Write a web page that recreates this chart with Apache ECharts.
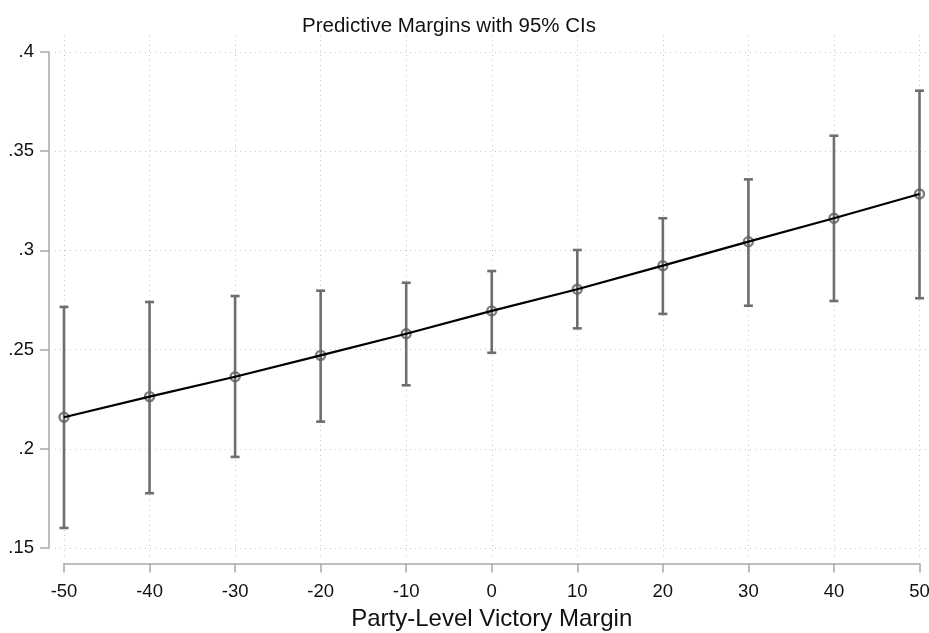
<!DOCTYPE html>
<html>
<head>
<meta charset="utf-8">
<script src="https://cdn.jsdelivr.net/npm/echarts@6/dist/echarts.min.js"></script>
<style>html,body{margin:0;padding:0;background:#fff}#c{width:929px;height:633px}</style>
</head>
<body>
<div id="c"></div>
<script>
const xValues = [-50, -40, -30, -20, -10, 0, 10, 20, 30, 40, 50];
const margins = [0.2159, 0.2263, 0.2363, 0.2471, 0.2580, 0.2695, 0.2804, 0.2923, 0.3044, 0.3162, 0.3284];
const lowerCI = [0.1601, 0.1776, 0.1959, 0.2137, 0.2320, 0.2484, 0.2607, 0.2680, 0.2721, 0.2745, 0.2759];
const upperCI = [0.2715, 0.2740, 0.2770, 0.2797, 0.2837, 0.2896, 0.3002, 0.3162, 0.3358, 0.3578, 0.3805];
const titleText = 'Predictive Margins with 95% CIs';
const xTitle = 'Party-Level Victory Margin';

const FONT = '"Liberation Sans", Arial, sans-serif';
const AXIS_COLOR = '#a8a8a8';
const GRID_COLOR = '#c4c4c4';
const BAR_COLOR = '#6e6e6e';

const chart = echarts.init(document.getElementById('c'), null, {renderer: 'canvas'});

const fmtY = v => String(+(+v).toFixed(2)).replace(/^0\./, '.');

const lineData = xValues.map((x, i) => [x, margins[i]]);
const barData = xValues.map((x, i) => [x, lowerCI[i], upperCI[i]]);

const dotted = {show: true, lineStyle: {color: GRID_COLOR, type: [1, 4], width: 1}};
const noAxis = {axisLine: {show: false}, axisTick: {show: false}, axisLabel: {show: false}};
const gridBase = {containLabel: false, outerBoundsMode: 'none'};

chart.setOption({
  animation: false,
  backgroundColor: '#ffffff',
  title: {
    text: titleText,
    left: 444, top: 11, textAlign: 'center',
    textStyle: {fontFamily: FONT, fontSize: 20.5, fontWeight: 'normal', color: '#111'}
  },
  grid: [
    Object.assign({left: 64, right: 9.5, top: 52, bottom: 85}, gridBase),      // main
    Object.assign({left: 64, right: 9.5, top: 35, bottom: 75}, gridBase),      // vertical dotted lines
    Object.assign({left: 55, right: 0, top: 52, bottom: 85}, gridBase)         // horizontal dotted lines
  ],
  xAxis: [
    {
      gridIndex: 0, type: 'value', min: -50, max: 50, interval: 10,
      offset: 15.5,
      axisLine: {show: true, onZero: false, lineStyle: {color: AXIS_COLOR, width: 1.5}},
      axisTick: {show: true, length: 9, lineStyle: {color: AXIS_COLOR, width: 1.5}},
      axisLabel: {margin: 19, fontFamily: FONT, fontSize: 18.5, color: '#111'},
      splitLine: {show: false},
      name: xTitle, nameLocation: 'middle', nameGap: 44,
      nameTextStyle: {fontFamily: FONT, fontSize: 24, color: '#111'}
    },
    Object.assign({gridIndex: 1, type: 'value', min: -50, max: 50, interval: 10, splitLine: dotted}, noAxis),
    Object.assign({gridIndex: 2, type: 'value', min: 0, max: 1, splitLine: {show: false}}, noAxis)
  ],
  yAxis: [
    {
      gridIndex: 0, type: 'value', min: 0.15, max: 0.4, interval: 0.05,
      offset: 15,
      axisLine: {show: true, onZero: false, lineStyle: {color: AXIS_COLOR, width: 1.5}},
      axisTick: {show: true, length: 9, lineStyle: {color: AXIS_COLOR, width: 1.5}},
      axisLabel: {margin: 15, fontFamily: FONT, fontSize: 18.5, color: '#111', formatter: fmtY},
      splitLine: {show: false}
    },
    Object.assign({gridIndex: 1, type: 'value', min: 0, max: 1, splitLine: {show: false}}, noAxis),
    Object.assign({gridIndex: 2, type: 'value', min: 0.15, max: 0.4, interval: 0.05, splitLine: dotted}, noAxis)
  ],
  series: [
    {
      type: 'custom',
      xAxisIndex: 0, yAxisIndex: 0,
      data: barData,
      z: 2,
      renderItem: function (params, api) {
        const x = api.value(0);
        const lo = api.coord([x, api.value(1)]);
        const hi = api.coord([x, api.value(2)]);
        const hw = 4.5;
        const style = {stroke: BAR_COLOR, lineWidth: 2.6, fill: null};
        return {
          type: 'group',
          children: [
            {type: 'line', shape: {x1: lo[0], y1: lo[1], x2: hi[0], y2: hi[1]}, style: style},
            {type: 'line', shape: {x1: lo[0] - hw, y1: lo[1], x2: lo[0] + hw, y2: lo[1]}, style: style},
            {type: 'line', shape: {x1: hi[0] - hw, y1: hi[1], x2: hi[0] + hw, y2: hi[1]}, style: style}
          ]
        };
      }
    },
    {
      type: 'scatter',
      xAxisIndex: 0, yAxisIndex: 0,
      data: lineData,
      symbol: 'circle', symbolSize: 9,
      itemStyle: {color: 'rgba(255,255,255,0)', borderColor: '#5e5e5e', borderWidth: 2.4},
      z: 3
    },
    {
      type: 'line',
      xAxisIndex: 0, yAxisIndex: 0,
      data: lineData,
      showSymbol: false,
      lineStyle: {color: '#000', width: 2.2},
      z: 4
    }
  ]
});
</script>
</body>
</html>
